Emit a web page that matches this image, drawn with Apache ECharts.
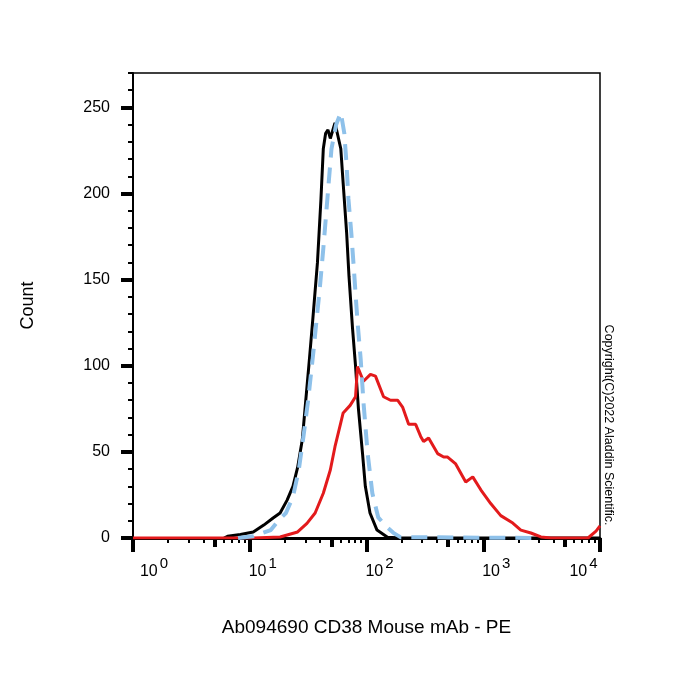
<!DOCTYPE html>
<html>
<head>
<meta charset="utf-8">
<title>CD38 histogram</title>
<script src="https://cdn.jsdelivr.net/npm/echarts@6/dist/echarts.min.js"></script>
<style>
html, body { margin: 0; padding: 0; background: #fff; }
#main { width: 700px; height: 700px; }
</style>
</head>
<body>
<div id="main"></div>
<script>
// x values are log10 of the PE intensity (10^0 .. 10^4)
var blackX = [0.78, 0.81, 0.92, 1.03, 1.12, 1.20, 1.26, 1.32, 1.37, 1.41, 1.45, 1.48, 1.51, 1.54, 1.58, 1.61, 1.63, 1.65, 1.67, 1.69, 1.73, 1.78, 1.80, 1.83, 1.85, 1.88, 1.906, 1.931, 1.966, 1.99, 2.03, 2.09, 2.18, 2.3, 3.0, 4.0];
var blackY = [0, 1, 2, 3.5, 7.5, 11.6, 14.5, 22, 30, 41, 57, 80, 103, 127, 160, 197, 226, 235, 237, 232, 241, 226, 206, 177, 152, 122, 100, 75, 49, 30, 14.5, 4.6, 0.5, 0, 0, 0];

var blueX = [0.90, 1.03, 1.18, 1.25, 1.31, 1.37, 1.42, 1.46, 1.50, 1.545, 1.57, 1.60, 1.63, 1.665, 1.70, 1.74, 1.78, 1.81, 1.83, 1.845, 1.87, 1.89, 1.91, 1.925, 1.95, 1.975, 2.01, 2.05, 2.10, 2.18, 2.23, 2.29, 3.47];
var blueY = [0, 1, 4.6, 10.5, 14.5, 24, 39.5, 59, 80, 108, 125, 145, 168, 197, 226, 240, 247, 235, 216, 197, 177, 158, 138, 124, 104, 78, 49, 26, 12, 6, 3, 0.5, 0];

var redX = [0, 1.03, 1.26, 1.41, 1.49, 1.56, 1.63, 1.69, 1.73, 1.78, 1.80, 1.86, 1.906, 1.923, 1.94, 1.974, 2.034, 2.077, 2.146, 2.206, 2.266, 2.309, 2.361, 2.395, 2.421, 2.464, 2.489, 2.532, 2.609, 2.661, 2.695, 2.764, 2.85, 2.91, 2.979, 3.064, 3.15, 3.253, 3.322, 3.408, 3.494, 3.579, 3.897, 3.966, 4.0];
var redY = [0, 0, 0.6, 3.5, 8.5, 14.5, 26, 39.5, 53, 67, 72.6, 77, 82, 99.5, 100.6, 91, 95, 94, 82, 80, 80, 76, 66, 66, 66, 59, 56, 58, 49, 47, 47, 43, 32.5, 35.5, 28, 20, 13, 8.7, 4.6, 2.9, 0.6, 0, 0, 4, 7];

var decades = [0, 1, 2, 3, 4];
var yTicks = [0, 50, 100, 150, 200, 250];

var FONT = 'Liberation Sans, Arial, sans-serif';

function pairs(xs, ys) {
    var out = [];
    for (var i = 0; i < xs.length; i++) out.push([xs[i], ys[i]]);
    return out;
}

// tick positions inside each decade
var fives = [], minors = [];
for (var k = 0; k < 4; k++) {
    fives.push(k + Math.log10(5));
    [2, 3, 4, 6, 7, 8, 9].forEach(function (m) { minors.push(k + Math.log10(m)); });
}

var myChart = echarts.init(document.getElementById('main'));
myChart.setOption({
    animation: false,
    grid: {
        left: 133, right: 100, top: 73, bottom: 162,
        show: true, borderColor: '#000', borderWidth: 1.5
    },
    xAxis: [{
        type: 'value', min: 0, max: 4, position: 'bottom',
        axisLine: { onZero: false, lineStyle: { color: '#000', width: 3 } },
        axisTick: { customValues: decades, length: 14, lineStyle: { color: '#000', width: 4 } },
        axisLabel: {
            customValues: decades,
            margin: 18,
            formatter: function (v) {
                var e = Math.round(v);
                var pre = e === 0 ? '{w0| }' : (e === 4 ? '' : '{w1| }');
                var post = e === 4 ? '{w4| }' : '';
                return pre + '{b|10}{s|' + e + '}' + post;
            },
            rich: {
                b: { fontSize: 16, fontFamily: FONT, color: '#000', verticalAlign: 'bottom' },
                s: { fontSize: 15, fontFamily: FONT, color: '#000', padding: [0, 0, 9, 2], verticalAlign: 'bottom' },
                w0: { width: 42 },
                w1: { width: 26 },
                w4: { width: 33 }
            }
        },
        splitLine: { show: false },
        name: 'Ab094690 CD38 Mouse mAb - PE',
        nameLocation: 'middle',
        nameGap: 80,
        nameTextStyle: { fontSize: 19, fontFamily: FONT, color: '#000' }
    }, {
        type: 'value', min: 0, max: 4, position: 'bottom',
        axisLine: { show: false, onZero: false },
        axisTick: { customValues: fives, length: 9, lineStyle: { color: '#000', width: 4 } },
        axisLabel: { show: false },
        splitLine: { show: false }
    }, {
        type: 'value', min: 0, max: 4, position: 'bottom',
        axisLine: { show: false, onZero: false },
        axisTick: { customValues: minors, length: 5, lineStyle: { color: '#000', width: 2 } },
        axisLabel: { show: false },
        splitLine: { show: false }
    }],
    yAxis: [{
        type: 'value', min: 0, max: 270,
        axisLine: { show: true, lineStyle: { color: '#000', width: 2 } },
        axisTick: { customValues: yTicks, length: 12, lineStyle: { color: '#000', width: 4 } },
        axisLabel: { customValues: yTicks, margin: 23, fontSize: 16, fontFamily: FONT, color: '#000' },
        splitLine: { show: false },
        name: 'Count',
        nameLocation: 'middle',
        nameGap: 96,
        nameTextStyle: { fontSize: 18, fontFamily: FONT, color: '#000' }
    }, {
        type: 'value', min: 0, max: 270, interval: 10, position: 'left',
        axisLine: { show: false },
        axisTick: { length: 5, lineStyle: { color: '#000', width: 2 } },
        axisLabel: { show: false },
        splitLine: { show: false }
    }],
    graphic: [{
        type: 'text',
        x: 608, y: 425,
        rotation: -Math.PI / 2,
        style: {
            text: 'Copyright(C)2022 Aladdin Scientific.',
            font: '12.5px ' + FONT,
            fill: '#000',
            textAlign: 'center',
            textVerticalAlign: 'middle'
        }
    }],
    series: [{
        name: 'black', type: 'line', showSymbol: false,
        data: pairs(blackX, blackY),
        lineStyle: { color: '#000', width: 3 }
    }, {
        name: 'red', type: 'line', showSymbol: false,
        data: pairs(redX, redY),
        lineStyle: { color: '#e31a1c', width: 3 }
    }, {
        name: 'blue', type: 'line', showSymbol: false,
        data: pairs(blueX, blueY),
        lineStyle: { color: '#8ec1ea', width: 4, type: [16, 10] }
    }]
});
</script>
</body>
</html>
